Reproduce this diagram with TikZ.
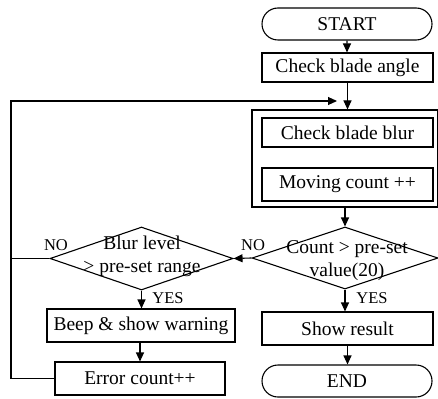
\documentclass[tikz,border=0pt]{standalone}
\usepackage{fontspec}
\setmainfont{Liberation Serif}
\usetikzlibrary{arrows.meta}
\usetikzlibrary{shapes.geometric,shapes.misc}

\begin{document}
\begin{tikzpicture}[x=1pt,y=-1pt, line width=1.1pt, >={Triangle[length=9pt,width=8pt]},
 font=\fontsize{19.5}{23}\selectfont,
 box/.style={draw, minimum width=171pt, minimum height=31pt, inner sep=0},
 term/.style={draw, rounded rectangle, minimum width=170pt, minimum height=32pt, inner sep=0},
 dec/.style={draw, diamond, minimum width=183pt, minimum height=62pt, inner sep=0},
 lbl/.style={inner sep=1pt, font=\fontsize{16.5}{18}\selectfont}]
\useasboundingbox (0,0) rectangle (438,398);
% right column
\node[term] (start) at (347,24) {START};
\node[box, minimum height=29pt] (angle) at (347.5,67.5) {Check blade angle};
\node[draw, minimum width=186pt, minimum height=97pt, inner sep=0] (loopbox) at (345,158.5) {};
\node[box, minimum height=29pt] (blur) at (347.5,132.5) {Check blade blur};
\node[box, minimum height=33pt] (moving) at (347.5,184.5) {Moving count ++};
\node[dec, minimum width=186pt] (count) at (345,258) {};
\node[align=center] (counttxt) at (347,261) {Count > pre-set\\value(20)};
\node[box, minimum height=33pt] (result) at (347.5,328.5) {Show result};
\node[term] (end) at (347,381) {END};
% left column
\node[dec, minimum height=63pt] (blurdec) at (141.5,258.5) {};
\node[align=center] (blurtxt) at (142,256.5) {Blur level\\> pre-set range};
\node[box, minimum width=188pt, minimum height=33pt] (beep) at (141,325.5) {Beep \& show warning};
\node[box, minimum width=170pt, minimum height=33pt] (error) at (140,378.5) {Error count++};
% labels
\node[lbl] (no1) at (253,245) {NO};
\node[lbl] (yes1) at (372,298) {YES};
\node[lbl] (no2) at (56,245) {NO};
\node[lbl] (yes2) at (168,298) {YES};
% connectors
\coordinate (corner) at (11,101);
\coordinate (loopend) at (337,101);
\draw[->] (start) -- (start.south |- angle.north);
\draw[->] (angle.south) -- (angle.south |- loopbox.north);
\draw[->] (loopbox.south) -- (count.north);
\draw[->] (count.west) -- (blurdec.east);
\draw[->] (count.south) -- (count.south |- result.north);
\draw[->] (result.south) -- (result.south |- end.north);
\draw[->] (blurdec.south) -- (blurdec.south |- beep.north);
\draw[->] (beep.south -| error.north) -- (error.north);
\draw[->] (blurdec.west) -| (corner) -- (loopend);
\draw (error.west) -| (corner);
\end{tikzpicture}
\end{document}
